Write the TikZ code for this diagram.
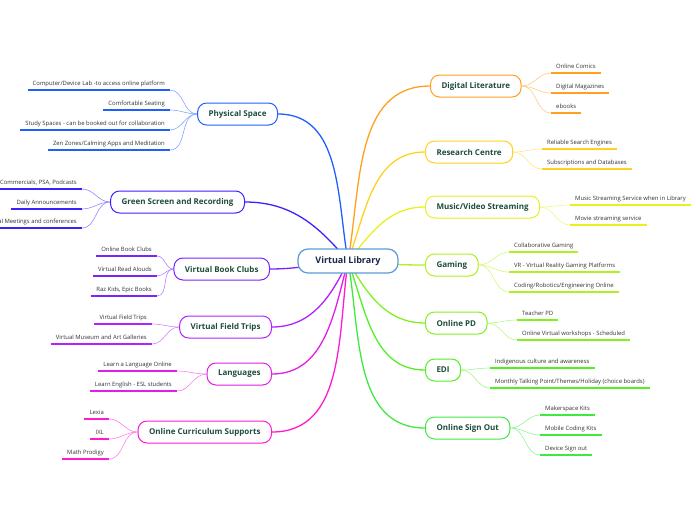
\documentclass[tikz,border=0pt]{standalone}
\usepackage{fontspec}
\setmainfont{Open Sans}
\usetikzlibrary{positioning, backgrounds}

\definecolor{hubline}{HTML}{5B9BD5}
\definecolor{hubtext}{HTML}{1A2A4A}
\definecolor{topictext}{HTML}{1E4D3C}
\definecolor{leaftext}{HTML}{333333}
\definecolor{cPS}{HTML}{1F5EFF}
\definecolor{cGS}{HTML}{3A22FF}
\definecolor{cVB}{HTML}{7B22FF}
\definecolor{cVF}{HTML}{B022FF}
\definecolor{cLA}{HTML}{E01EE8}
\definecolor{cOC}{HTML}{FF1AD0}
\definecolor{cDL}{HTML}{FFA020}
\definecolor{cRC}{HTML}{FFD21F}
\definecolor{cMV}{HTML}{E8F020}
\definecolor{cGA}{HTML}{B0F020}
\definecolor{cPD}{HTML}{80F020}
\definecolor{cED}{HTML}{55EE25}
\definecolor{cSO}{HTML}{40E840}

\begin{document}
\begin{tikzpicture}[x=1pt, y=1pt,
  hub/.style={draw=hubline, line width=1.2pt, fill=white, rounded corners=10pt,
    minimum width=100pt, minimum height=24pt, text=hubtext,
    font=\bfseries\fontsize{9}{11}\selectfont},
  topic/.style={draw=#1, line width=1pt, fill=white, rounded corners=9pt,
    minimum height=22pt, inner xsep=11pt, text=topictext,
    font=\bfseries\fontsize{8}{10}\selectfont},
  leaf/.style={inner xsep=5pt, inner ysep=3pt, text height=4.2pt, text depth=1.5pt,
    text=leaftext, font=\fontsize{5.9}{7}\selectfont},
  leafl/.style={leaf, anchor=south east},
  leafr/.style={leaf, anchor=south west},
  branch/.style={draw=#1, line width=1.3pt},
  twig/.style={draw=#1!55, line width=0.6pt},
  uline/.style={draw=#1, line width=1.4pt}]

\useasboundingbox (0,0) rectangle (696,-520);

% centre
\node[hub] (VL) at (348,-261) {Virtual Library};

% left topics
\node[topic=cPS, anchor=east] (PS) at (278,-114) {Physical Space};
\node[topic=cGS, anchor=east] (GS) at (245,-202) {Green Screen and Recording};
\node[topic=cVB, anchor=east] (VB) at (270,-269) {Virtual Book Clubs};
\node[topic=cVF, anchor=east] (VF) at (272,-327) {Virtual Field Trips};
\node[topic=cLA, anchor=east] (LA) at (272,-374) {Languages};
\node[topic=cOC, anchor=east] (OC) at (272,-432) {Online Curriculum Supports};

% right topics
\node[topic=cDL, anchor=west] (DL) at (430,-86) {Digital Literature};
\node[topic=cRC, anchor=west] (RC) at (425,-152) {Research Centre};
\node[topic=cMV, anchor=west] (MV) at (425,-207) {Music/Video Streaming};
\node[topic=cGA, anchor=west] (GA) at (425,-265) {Gaming};
\node[topic=cPD, anchor=west] (PD) at (425,-323) {Online PD};
\node[topic=cED, anchor=west] (ED) at (425,-370) {EDI};
\node[topic=cSO, anchor=west] (SO) at (425,-428) {Online Sign Out};

% left leaves
\node[leafl] (ps1) at (170,-90) {Computer/Device Lab -to access online platform};
\node[leafl] (ps2) at (170,-110) {Comfortable Seating};
\node[leafl] (ps3) at (170,-130) {Study Spaces - can be booked out for collaboration};
\node[leafl] (ps4) at (170,-150) {Zen Zones/Calming Apps and Meditation};

\node[leafl] (gs1) at (82,-189) {Commercials, PSA, Podcasts};
\node[leafl] (gs2) at (82,-209) {Daily Announcements};
\node[leafl] (gs3) at (82,-228) {Virtual Meetings and conferences};

\node[leafl] (vb1) at (157,-256) {Online Book Clubs};
\node[leafl] (vb2) at (157,-276) {Virtual Read Alouds};
\node[leafl] (vb3) at (157,-296) {Raz Kids, Epic Books};

\node[leafl] (vf1) at (152,-324) {Virtual Field Trips};
\node[leafl] (vf2) at (152,-344) {Virtual Museum and Art Galleries};

\node[leafl] (la1) at (177,-371) {Learn a Language Online};
\node[leafl] (la2) at (177,-391) {Learn English - ESL students};

\node[leafl] (oc1) at (109,-419) {Lexia};
\node[leafl] (oc2) at (109,-439) {IXL};
\node[leafl] (oc3) at (109,-459) {Math Prodigy};

% right leaves
\node[leafr] (dl1) at (551,-73) {Online Comics};
\node[leafr] (dl2) at (551,-93) {Digital Magazines};
\node[leafr] (dl3) at (551,-113) {ebooks};

\node[leafr] (rc1) at (542,-149) {Reliable Search Engines};
\node[leafr] (rc2) at (542,-169) {Subscriptions and Databases};

\node[leafr] (mv1) at (570,-205) {Music Streaming Service when in Library};
\node[leafr] (mv2) at (570,-225) {Movie streaming service};

\node[leafr] (ga1) at (509,-252) {Collaborative Gaming};
\node[leafr] (ga2) at (509,-272) {VR - Virtual Reality Gaming Platforms};
\node[leafr] (ga3) at (509,-292) {Coding/Robotics/Engineering Online};

\node[leafr] (pd1) at (517,-320) {Teacher PD};
\node[leafr] (pd2) at (517,-340) {Online Virtual workshops - Scheduled};

\node[leafr] (ed1) at (490,-368) {Indigenous culture and awareness};
\node[leafr] (ed2) at (490,-388) {Monthly Talking Point/Themes/Holiday (choice boards)};

\node[leafr] (so1) at (540,-415) {Makerspace Kits};
\node[leafr] (so2) at (540,-435) {Mobile Coding Kits};
\node[leafr] (so3) at (540,-455) {Device Sign out};

\begin{scope}[on background layer]
% main branches
\draw[branch=cPS] (VL.center) to[out=100, in=0] (PS.east);
\draw[branch=cGS] (VL.center) to[out=130, in=0] (GS.east);
\draw[branch=cVB] (VL.center) to[out=185, in=0] (VB.east);
\draw[branch=cVF] (VL.center) to[out=245, in=0] (VF.east);
\draw[branch=cLA] (VL.center) to[out=255, in=0] (LA.east);
\draw[branch=cOC] (VL.center) to[out=262, in=0] (OC.east);
\draw[branch=cDL] (VL.center) to[out=80, in=180] (DL.west);
\draw[branch=cRC] (VL.center) to[out=70, in=180] (RC.west);
\draw[branch=cMV] (VL.center) to[out=50, in=180] (MV.west);
\draw[branch=cGA] (VL.center) to[out=-5, in=180] (GA.west);
\draw[branch=cPD] (VL.center) to[out=-60, in=180] (PD.west);
\draw[branch=cED] (VL.center) to[out=-70, in=180] (ED.west);
\draw[branch=cSO] (VL.center) to[out=-80, in=180] (SO.west);

% twigs and underlines, left
\foreach \t/\c/\l in {PS/cPS/ps1, PS/cPS/ps2, PS/cPS/ps3, PS/cPS/ps4,
    GS/cGS/gs1, GS/cGS/gs2, GS/cGS/gs3,
    VB/cVB/vb1, VB/cVB/vb2, VB/cVB/vb3,
    VF/cVF/vf1, VF/cVF/vf2,
    LA/cLA/la1, LA/cLA/la2,
    OC/cOC/oc1, OC/cOC/oc2, OC/cOC/oc3} {
  \draw[twig=\c] (\t.west) to[out=180, in=0] (\l.south east);
  \draw[uline=\c] (\l.south west) -- (\l.south east);
}

% twigs and underlines, right
\foreach \t/\c/\l in {DL/cDL/dl1, DL/cDL/dl2, DL/cDL/dl3,
    RC/cRC/rc1, RC/cRC/rc2,
    MV/cMV/mv1, MV/cMV/mv2,
    GA/cGA/ga1, GA/cGA/ga2, GA/cGA/ga3,
    PD/cPD/pd1, PD/cPD/pd2,
    ED/cED/ed1, ED/cED/ed2,
    SO/cSO/so1, SO/cSO/so2, SO/cSO/so3} {
  \draw[twig=\c] (\t.east) to[out=0, in=180] (\l.south west);
  \draw[uline=\c] (\l.south west) -- (\l.south east);
}
\end{scope}

\end{tikzpicture}
\end{document}
